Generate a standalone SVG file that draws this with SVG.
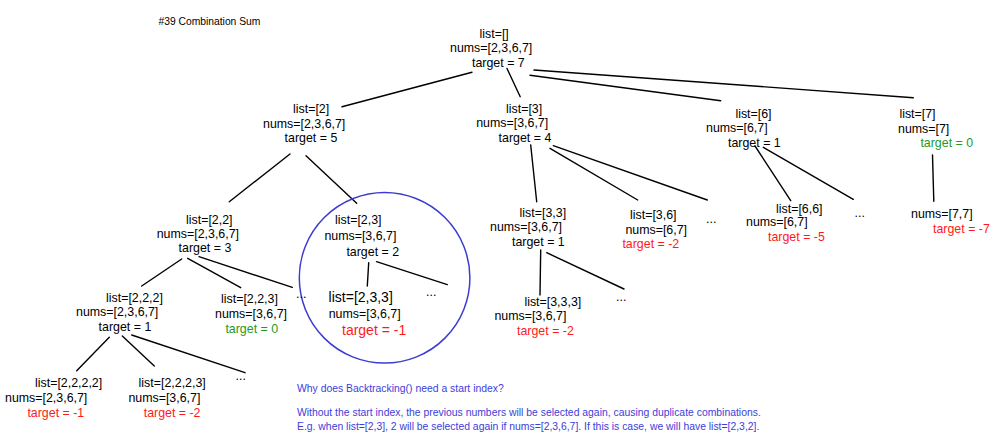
<svg xmlns="http://www.w3.org/2000/svg" width="1000" height="446" viewBox="0 0 1000 446">
<style>
text{font-family:"Liberation Sans",Arial,sans-serif;font-size:12.4px;fill:#000}
.big{font-size:14px}
.red{fill:#ff1a1a}
.green{fill:#1f9a1f}
.note{font-size:10.4px;fill:#3d3ddb}
.title{font-size:10.3px}
#connectors line{stroke:#000;stroke-width:1.4;stroke-linecap:round}
</style>
<rect width="1000" height="446" fill="#fff"/>
<text class="title" x="158.5" y="25">#39 Combination Sum</text>
<g id="connectors">
<line x1="472" y1="72.3" x2="342" y2="106.7"/>
<line x1="507" y1="68.5" x2="520.2" y2="96.7"/>
<line x1="530" y1="75.3" x2="720.7" y2="100.7"/>
<line x1="534" y1="70" x2="913.3" y2="97.7"/>
<line x1="290" y1="154" x2="229.3" y2="201.7"/>
<line x1="306" y1="155.7" x2="356.7" y2="203.3"/>
<line x1="530.7" y1="145" x2="536.7" y2="201.7"/>
<line x1="550" y1="148.3" x2="637.7" y2="200"/>
<line x1="553.3" y1="145.7" x2="707.3" y2="200"/>
<line x1="755" y1="146" x2="790.7" y2="200.7"/>
<line x1="763.3" y1="147.3" x2="853.3" y2="199.3"/>
<line x1="932.5" y1="155" x2="933.8" y2="201.3"/>
<line x1="181.7" y1="259" x2="141.7" y2="286"/>
<line x1="187.7" y1="258.3" x2="240.7" y2="287.7"/>
<line x1="199" y1="256.7" x2="292.3" y2="287.3"/>
<line x1="368.7" y1="262.7" x2="367.3" y2="286"/>
<line x1="376.5" y1="261.7" x2="447.3" y2="284.6"/>
<line x1="109.3" y1="337.3" x2="76.7" y2="370.7"/>
<line x1="122.3" y1="336" x2="154.3" y2="366"/>
<line x1="131.7" y1="335" x2="245" y2="372.7"/>
<line x1="540.7" y1="250" x2="540" y2="295"/>
<line x1="546.7" y1="252.7" x2="624" y2="289"/>
</g>
<circle id="highlight" cx="384.6" cy="277.8" r="85.3" fill="none" stroke="#3c3cd2" stroke-width="1.5"/>
<g id="n-root"><text x="479.5" y="37.5">list=[]</text><text x="450" y="52">nums=[2,3,6,7]</text><text x="472" y="66.5">target = 7</text></g>
<g id="n-2"><text x="293" y="113.3">list=[2]</text><text x="263" y="127.8">nums=[2,3,6,7]</text><text x="284.6" y="142.3">target = 5</text></g>
<g id="n-3"><text x="506" y="112.5">list=[3]</text><text x="476.2" y="127">nums=[3,6,7]</text><text x="498.6" y="141.5">target = 4</text></g>
<g id="n-6"><text x="735.4" y="117.5">list=[6]</text><text x="706" y="132">nums=[6,7]</text><text x="728" y="146.5">target = 1</text></g>
<g id="n-7"><text x="899.4" y="118">list=[7]</text><text x="898" y="132.5">nums=[7]</text><text class="green" x="920.4" y="147.2">target = 0</text></g>
<g id="n-22"><text x="186" y="223.5">list=[2,2]</text><text x="156.7" y="237.7">nums=[2,3,6,7]</text><text x="178.6" y="251.8">target = 3</text></g>
<g id="n-23"><text x="335" y="223.7">list=[2,3]</text><text x="324.4" y="240.3">nums=[3,6,7]</text><text x="346.4" y="256">target = 2</text></g>
<g id="n-222"><text x="106" y="301.7">list=[2,2,2]</text><text x="76" y="316.4">nums=[2,3,6,7]</text><text x="98.6" y="331">target = 1</text></g>
<g id="n-223"><text x="221" y="302.7">list=[2,2,3]</text><text x="215" y="317.5">nums=[3,6,7]</text><text class="green" x="225.4" y="332.6">target = 0</text></g>
<g id="n-233"><text class="big" x="328.6" y="302">list=[2,3,3]</text><text x="328.7" y="317.5">nums=[3,6,7]</text><text class="big red" x="342" y="334.5">target = -1</text></g>
<g id="n-2222"><text x="35" y="386.5">list=[2,2,2,2]</text><text x="5" y="401.5">nums=[2,3,6,7]</text><text class="red" x="27.4" y="416.7">target = -1</text></g>
<g id="n-2223"><text x="138.6" y="386.5">list=[2,2,2,3]</text><text x="128.4" y="401.5">nums=[3,6,7]</text><text class="red" x="143.7" y="416.7">target = -2</text></g>
<g id="n-33"><text x="519.6" y="216.7">list=[3,3]</text><text x="490" y="230.8">nums=[3,6,7]</text><text x="512" y="246.3">target = 1</text></g>
<g id="n-36"><text x="630" y="218.7">list=[3,6]</text><text x="625.4" y="233.5">nums=[6,7]</text><text class="red" x="622.4" y="248.2">target = -2</text></g>
<g id="n-333"><text x="524.4" y="305.8">list=[3,3,3]</text><text x="494.4" y="319.6">nums=[3,6,7]</text><text class="red" x="517" y="334.8">target = -2</text></g>
<g id="n-66"><text x="776" y="212.5">list=[6,6]</text><text x="746" y="226">nums=[6,7]</text><text class="red" x="768" y="241.2">target = -5</text></g>
<g id="n-77"><text x="911" y="217.5">nums=[7,7]</text><text class="red" x="933" y="232.5">target = -7</text></g>
<g id="dots">
<text x="296" y="297.5">...</text>
<text x="426" y="296">...</text>
<text x="616" y="301">...</text>
<text x="706" y="223">...</text>
<text x="854.5" y="217">...</text>
<text x="235.5" y="380">...</text>
</g>
<g id="note">
<text class="note" x="297" y="392">Why does Backtracking() need a start index?</text>
<text class="note" x="297" y="416">Without the start index, the previous numbers will be selected again, causing duplicate combinations.</text>
<text class="note" x="297" y="430">E.g. when list=[2,3], 2 will be selected again if nums=[2,3,6,7]. If this is case, we will have list=[2,3,2].</text>
</g>
</svg>
